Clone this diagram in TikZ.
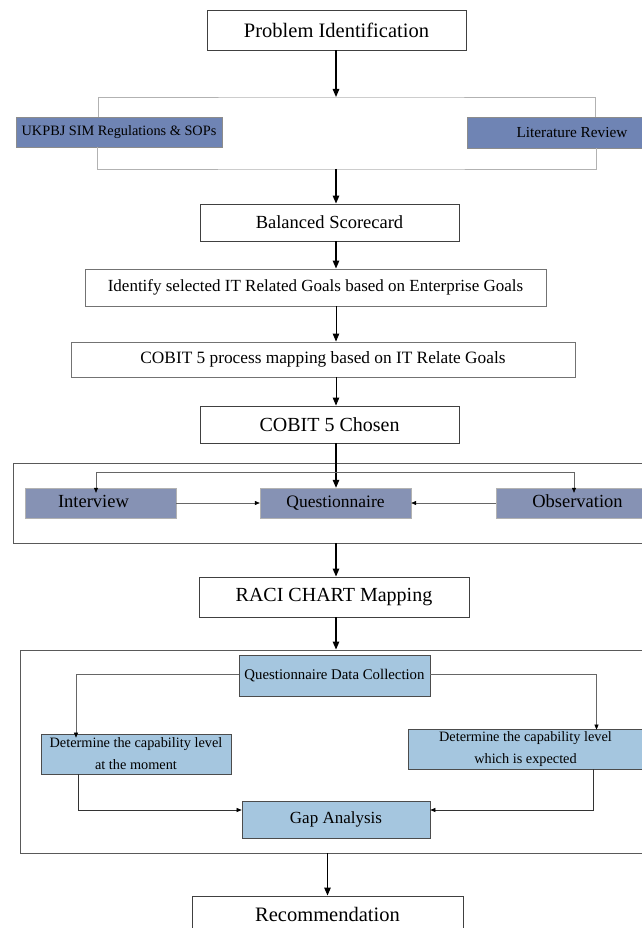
\documentclass[tikz,border=0pt]{standalone}
\usepackage{fontspec}
\setmainfont{Liberation Serif}
\usetikzlibrary{arrows.meta, positioning}

\definecolor{slateblue}{HTML}{6F84B4}
\definecolor{greyblue}{HTML}{8692B4}
\definecolor{skyblue}{HTML}{A5C6DF}

\tikzset{
  wbox/.style={draw=black!75, fill=white, line width=0.9pt, inner sep=0pt},
  sbox/.style={draw=black!45, fill=slateblue, inner sep=0pt},
  gbox/.style={draw=black!30, fill=greyblue, inner sep=0pt, text height=12.5pt, text depth=4pt},
  lbox/.style={draw=black!70, fill=skyblue, line width=0.7pt, inner sep=0pt, align=center},
  frame/.style={draw=black!65, line width=0.9pt, inner sep=0pt},
  mainarrow/.style={line width=1.2pt, -{Triangle[length=8pt,width=6.5pt]}},
  thinarrow/.style={draw=black!60, line width=0.6pt, -{Triangle[length=5pt,width=4pt,fill=black,color=black]}},
  gline/.style={draw=black!30, line width=0.8pt},
}

\begin{document}
\begin{tikzpicture}[x=1pt, y=-1pt]
  \useasboundingbox (0,0) rectangle (641,928);

  % top part
  \node[wbox, minimum width=259pt, minimum height=40pt, font=\fontsize{20.5}{24}\selectfont] (prob) at (336.5,30) {Problem Identification};
  \node[sbox, minimum width=206pt, minimum height=30pt, font=\fontsize{14.3}{17}\selectfont] (ukpbj) at (119,132) {UKPBJ SIM Regulations \& SOPs};
  \node[sbox, minimum width=176pt, minimum height=31pt, font=\fontsize{15.3}{18}\selectfont] (lit) at (555,132.5) {\hspace{34pt}Literature Review};
  \coordinate (brtop) at (336,97);
  \coordinate (brbot) at (336,169);
  \draw[gline] ([xshift=-21pt]ukpbj.north) |- (brtop) -| ([xshift=40pt]lit.north);
  \draw[gline] ([xshift=-22pt]ukpbj.south) |- (brbot) -| ([xshift=41pt]lit.south);
  \draw[mainarrow] (prob.south -| brtop) -- (brtop);

  \node[wbox, minimum width=259pt, minimum height=37pt, font=\fontsize{18.5}{22}\selectfont] (bal) at (329.5,222.5) {Balanced Scorecard};
  \node[wbox, draw=black!55, minimum width=461pt, minimum height=37pt, font=\fontsize{17}{20}\selectfont] (ident) at (315.5,287.5) {Identify selected IT Related Goals based on Enterprise Goals};
  \node[wbox, draw=black!55, minimum width=504pt, minimum height=35pt, font=\fontsize{17.3}{20}\selectfont] (proc) at (323,359.5) {COBIT 5 process mapping based on IT Relate Goals};
  \node[wbox, minimum width=259pt, minimum height=37pt, font=\fontsize{20}{24}\selectfont] (chosen) at (329.5,424.5) {COBIT 5 Chosen};
  \draw[mainarrow] (brbot) -- (brbot |- bal.north);
  \draw[mainarrow] (bal.south -| brtop) -- (ident.north -| brtop);
  \draw[mainarrow, line width=0.9pt] (ident.south -| brtop) -- (proc.north -| brtop);
  \draw[mainarrow, line width=0.9pt] (proc.south -| brtop) -- (chosen.north -| brtop);

  % data collection methods
  \node[frame, minimum width=630pt, minimum height=80pt] (grp1) at (328,503) {};
  \node[gbox, minimum width=151pt, minimum height=30pt, font=\fontsize{18.5}{22}\selectfont] (iv) at (100.5,503) {\hspace{-14pt}Interview};
  \node[gbox, minimum width=151pt, minimum height=30pt, font=\fontsize{17.5}{21}\selectfont] (qn) at (335.5,503) {Questionnaire};
  \node[gbox, minimum width=147pt, minimum height=30pt, font=\fontsize{18.5}{22}\selectfont] (obs) at (569.5,503) {\hspace{16pt}Observation};
  \coordinate (spl) at (336,472);
  \draw[mainarrow] (chosen.south -| spl) -- (qn.north -| spl);
  \draw[thinarrow] (spl) -| ([xshift=-4.5pt,yshift=-5pt]iv.north);
  \draw[thinarrow] (spl) -| ([xshift=4.5pt,yshift=-5pt]obs.north);
  \draw[thinarrow] (iv) -- (qn);
  \draw[thinarrow] (obs) -- (qn);

  \node[wbox, minimum width=270pt, minimum height=40pt, font=\fontsize{20}{24}\selectfont] (raci) at (334,597) {RACI CHART Mapping};
  \draw[mainarrow] (grp1.south -| spl) -- (raci.north -| spl);

  % capability assessment
  \node[frame, minimum width=623pt, minimum height=203pt] (grp2) at (331.5,751.5) {};
  \draw[mainarrow] (raci.south -| spl) -- (grp2.north -| spl);
  \node[lbox, minimum width=191pt, minimum height=41pt, font=\fontsize{14.8}{18}\selectfont] (qdc) at (334.5,675.5) {Questionnaire Data Collection};
  \node[lbox, minimum width=190pt, minimum height=40pt, font=\fontsize{14.3}{22}\selectfont] (lcap) at (136,754) {Determine the capability level\\at the moment};
  \node[lbox, minimum width=235pt, minimum height=40pt, font=\fontsize{14.3}{22}\selectfont] (rcap) at (525.5,749) {Determine the capability level\\which is expected};
  \node[lbox, minimum width=188pt, minimum height=37pt, font=\fontsize{17}{20}\selectfont] (gap) at (336,819.5) {Gap Analysis};
  \draw[thinarrow] ([yshift=1.5pt]qdc.west) -| ([xshift=-60pt,yshift=-4pt]lcap.north);
  \draw[thinarrow] ([yshift=1.5pt]qdc.east) -| ([xshift=71pt,yshift=-1pt]rcap.north);
  \draw[thinarrow, draw=black!80] ([xshift=-58pt]lcap.south) |- ([yshift=9.5pt]gap.west);
  \draw[thinarrow, draw=black!80] ([xshift=68pt]rcap.south) |- ([yshift=9.5pt]gap.east);

  \node[wbox, minimum width=271pt, minimum height=42pt, font=\fontsize{20.5}{24}\selectfont, text depth=6pt] (rec) at (327.5,917) {Recommendation};
  \draw[mainarrow] (grp2.south -| rec) -- (rec.north);
\end{tikzpicture}
\end{document}
